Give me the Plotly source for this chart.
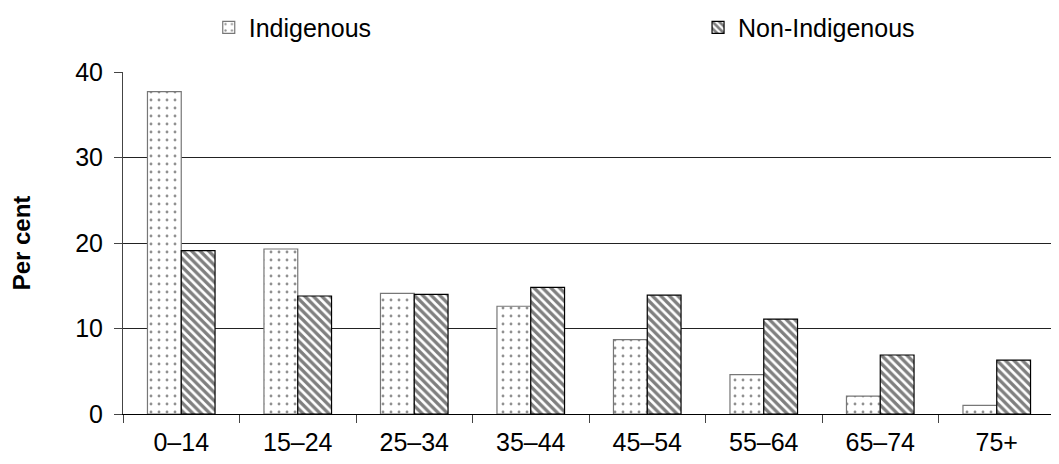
import plotly.graph_objects as go

categories = ["0–14", "15–24", "25–34", "35–44", "45–54", "55–64", "65–74", "75+"]
indigenous = [37.7, 19.3, 14.1, 12.6, 8.7, 4.6, 2.1, 1.0]
non_indigenous = [19.1, 13.8, 14.0, 14.8, 13.9, 11.1, 6.9, 6.3]
y_ticks = [0, 10, 20, 30, 40]

fig = go.Figure()
fig.add_trace(go.Bar(
    x=categories, y=indigenous, name="Indigenous", legend="legend", showlegend=True,
    marker=dict(color="white", line=dict(color="#777", width=1.2),
                pattern=dict(shape=".", fgcolor="#222", bgcolor="white", size=8, solidity=0.1)),
))
fig.add_trace(go.Bar(
    x=categories, y=non_indigenous, name="Non-Indigenous", legend="legend2", showlegend=True,
    marker=dict(color="white", line=dict(color="black", width=1.2),
                pattern=dict(shape="\\", fgcolor="black", bgcolor="white", size=6, solidity=0.55)),
))

fig.update_layout(
    width=1051, height=456, showlegend=True,
    barmode="group", bargap=0.42, bargroupgap=0,
    paper_bgcolor="white", plot_bgcolor="white",
    font=dict(family="Liberation Sans, Arial, sans-serif", size=25, color="black"),
    margin=dict(l=115, r=4, t=64, b=50, autoexpand=False),
    legend=dict(orientation="h", x=0.092, y=1.13, xanchor="left", yanchor="middle",
                font=dict(size=25), bgcolor="rgba(0,0,0,0)"),
    legend2=dict(orientation="h", x=0.617, y=1.13, xanchor="left", yanchor="middle",
                 font=dict(size=25), bgcolor="rgba(0,0,0,0)"),
    xaxis=dict(showline=True, linecolor="black", linewidth=1, ticks="outside",
               tickson="boundaries", ticklen=8, tickcolor="#444", showgrid=False,
               automargin=False, ticklabelstandoff=6),
    yaxis=dict(range=[0, 40], tickvals=y_ticks, showline=True, linecolor="#444", linewidth=1,
               ticks="outside", ticklen=8, tickcolor="#444", automargin=False,
               ticklabelstandoff=6,
               showgrid=True, gridcolor="#222", gridwidth=1, zeroline=False,
               title=dict(text="<b>Per cent</b>", font=dict(size=24), standoff=46)),
)
fig.write_html("out.html")
